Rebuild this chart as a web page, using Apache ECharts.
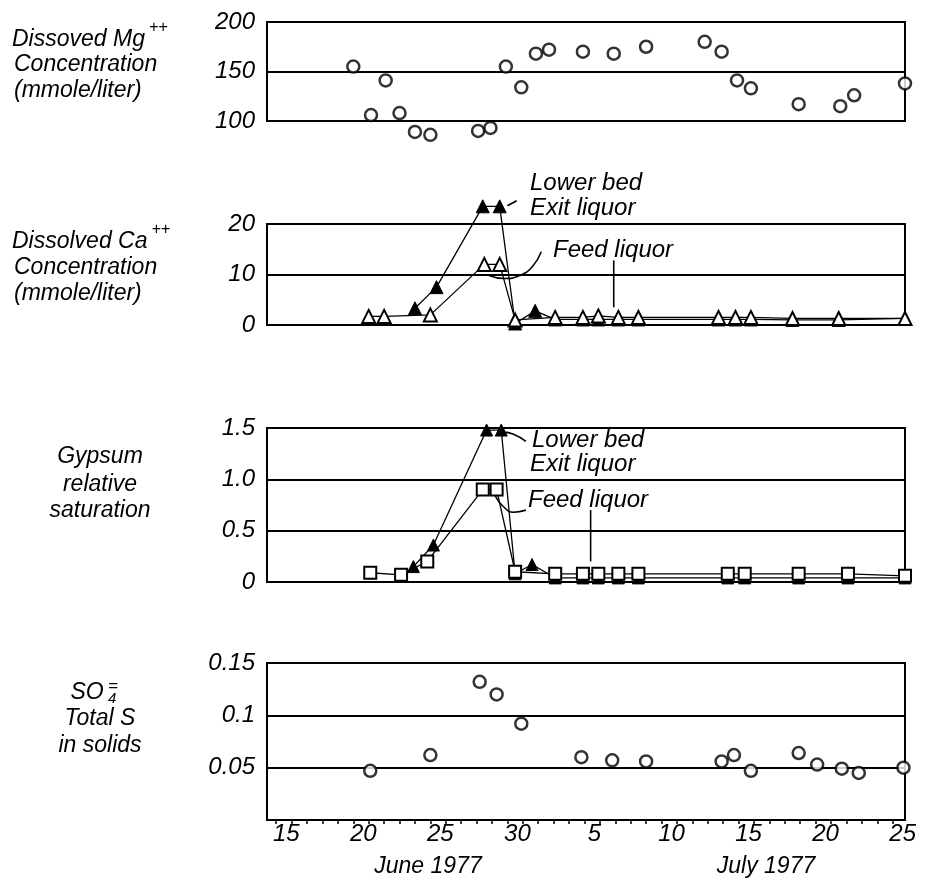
<!DOCTYPE html>
<html><head><meta charset="utf-8">
<script src="https://cdn.jsdelivr.net/npm/echarts@6/dist/echarts.min.js"></script>
<style>html,body{margin:0;padding:0;background:#fff}#c{width:926px;height:888px}</style>
</head><body><div id="c"></div>
<script>
// ---- data (x = day counted from 1 June 1977; July d = 30 + d) ----
const dayTicks = [15, 20, 25, 30, 35, 40, 45, 50, 55];

const mgDays   = [20, 21.15, 22.1, 23, 24, 25, 28.1, 28.9, 29.9, 30.9, 31.85, 32.7, 34.9, 36.9, 39, 42.8, 43.9, 44.9, 45.8, 48.9, 51.6, 52.5, 55.8];
const mgValues = [155, 106, 141, 108, 89, 86, 90, 93, 155, 134, 168, 172, 170, 168, 175, 180, 170, 141, 133, 117, 115, 126, 138];

const caFeedDays   = [21, 22, 25, 28.5, 29.5, 30.5, 33.1, 34.9, 35.9, 37.2, 38.5, 43.7, 44.8, 45.8, 48.5, 51.5, 55.8];
const caFeedValues = [1.7, 1.7, 2.0, 12, 12, 1.0, 1.5, 1.5, 1.8, 1.5, 1.5, 1.5, 1.5, 1.5, 1.3, 1.3, 1.3];
const caLowDays    = [24, 25.4, 28.4, 29.5, 30.5, 31.8, 33.1, 34.9, 35.9, 37.2, 38.5, 43.7, 44.8, 45.8, 48.5, 51.5, 55.8];
const caLowValues  = [3.3, 7.5, 23.5, 23.5, 0.3, 2.8, 1.1, 1.1, 1.1, 1.1, 1.1, 1.1, 1.1, 1.1, 1.0, 1.0, 1.3];

const gypFeedDays   = [21.1, 23.1, 24.8, 28.4, 29.3, 30.5, 33.1, 34.9, 35.9, 37.2, 38.5, 44.3, 45.4, 48.9, 52.1, 55.8];
const gypFeedValues = [0.09, 0.07, 0.2, 0.9, 0.9, 0.1, 0.08, 0.08, 0.08, 0.08, 0.08, 0.08, 0.08, 0.08, 0.08, 0.06];
const gypLowDays    = [23.9, 25.2, 28.65, 29.6, 30.5, 31.6, 33.1, 34.9, 35.9, 37.2, 38.5, 44.3, 45.4, 48.9, 52.1, 55.8];
const gypLowValues  = [0.15, 0.36, 1.48, 1.48, 0.08, 0.17, 0.04, 0.04, 0.04, 0.04, 0.04, 0.04, 0.04, 0.04, 0.04, 0.04];

const so4Days   = [21.1, 25, 28.2, 29.3, 30.9, 34.8, 36.8, 39, 43.9, 44.7, 45.8, 48.9, 50.1, 51.7, 52.8, 55.7];
const so4Values = [0.047, 0.062, 0.132, 0.120, 0.092, 0.060, 0.057, 0.056, 0.056, 0.062, 0.047, 0.064, 0.053, 0.049, 0.045, 0.050];

// callout leader lines (data coordinates)
const caExitLeader  = [[30.0, 23.6], [30.6, 24.6]];
const caFeedLeader  = [[32.2, 14.5], [31.6, 11.5], [30.8, 9.8], [29.8, 9.2], [28.8, 9.8]];
const caFeedArrow   = [[36.9, 12.8], [36.9, 3.5]];
const gypExitLeader = [[29.7, 1.46], [30.4, 1.44], [31.2, 1.37]];
const gypFeedLeader = [[29.2, 0.84], [29.7, 0.74], [30.4, 0.68], [31.2, 0.70]];
const gypFeedArrow  = [[35.4, 0.70], [35.4, 0.20]];

// ---- chart ----
const FONT = '"Liberation Sans", Arial, sans-serif';
const zip = (a, b) => a.map((d, i) => [d, b[i]]);
const chart = echarts.init(document.getElementById('c'), null, {renderer: 'canvas'});

const gridDefs = [[22, 99], [224, 101], [428, 154], [663, 157]];
const grids = gridDefs.map(g => ({left: 267, width: 638, top: g[0], height: g[1], show: true,
  borderColor: '#000', borderWidth: 2, backgroundColor: 'transparent'}));

const dailyTicks = [];
for (let d = 15; d <= 55; d++) dailyTicks.push(d);

const xAxes = [0, 1, 2, 3].map(i => ({
  type: 'value', gridIndex: i, min: 14.4, max: 55.8, show: i === 3,
  axisLine: {show: true, lineStyle: {color: '#000', width: 2}},
  axisTick: {show: true, customValues: dailyTicks, length: 4, lineStyle: {color: '#000', width: 1.5}},
  splitLine: {show: false},
  axisLabel: {customValues: dayTicks, formatter: v => String(v > 30 ? v - 30 : v),
    color: '#000', fontSize: 24, fontStyle: 'italic', fontFamily: FONT, margin: 2, padding: [0, 0, 0, 20]}
}));

const yDefs = [
  {min: 100, max: 200, interval: 50, fmt: v => String(v)},
  {min: 0, max: 20, interval: 10, fmt: v => String(v)},
  {min: 0, max: 1.5, interval: 0.5, fmt: v => v === 0 ? '0' : v.toFixed(1)},
  {min: 0, max: 0.15, interval: 0.05, fmt: v => v === 0 ? '' : String(Math.round(v * 100) / 100)}
];
const yAxes = yDefs.map((d, i) => ({
  type: 'value', gridIndex: i, min: d.min, max: d.max, interval: d.interval,
  axisLine: {show: false}, axisTick: {show: false},
  splitLine: {show: true, lineStyle: {color: '#000', width: 2}},
  axisLabel: {formatter: d.fmt, color: '#000', fontSize: 24, fontStyle: 'italic', fontFamily: FONT, margin: 12}
}));

const openStyle = {color: '#fff', borderColor: '#000', borderWidth: 2};
const fillStyle = {color: '#000', borderColor: '#000', borderWidth: 1};
const lineBase = {color: '#000', width: 1.3};

const leader = (data, i) => ({type: 'line', xAxisIndex: i, yAxisIndex: i, data, smooth: true,
  symbol: 'none', clip: false, silent: true, z: 1, lineStyle: {color: '#000', width: 1.6}});

const series = [
  {type: 'scatter', xAxisIndex: 0, yAxisIndex: 0, data: zip(mgDays, mgValues), symbol: 'circle',
   symbolSize: 12, clip: false, itemStyle: {color: '#fff', borderColor: '#000', borderWidth: 2.5}},
  {type: 'line', xAxisIndex: 1, yAxisIndex: 1, data: zip(caLowDays, caLowValues), symbol: 'triangle',
   symbolSize: 13, clip: false, z: 2, itemStyle: fillStyle, lineStyle: lineBase},
  {type: 'line', xAxisIndex: 1, yAxisIndex: 1, data: zip(caFeedDays, caFeedValues), symbol: 'triangle',
   symbolSize: 13, clip: false, z: 3, itemStyle: openStyle, lineStyle: lineBase},
  {type: 'line', xAxisIndex: 2, yAxisIndex: 2, data: zip(gypLowDays, gypLowValues), symbol: 'triangle',
   symbolSize: 12, clip: false, z: 2, itemStyle: fillStyle, lineStyle: lineBase},
  {type: 'line', xAxisIndex: 2, yAxisIndex: 2, data: zip(gypFeedDays, gypFeedValues), symbol: 'rect',
   symbolSize: 12, clip: false, z: 3, itemStyle: openStyle, lineStyle: lineBase},
  {type: 'scatter', xAxisIndex: 3, yAxisIndex: 3, data: zip(so4Days, so4Values), symbol: 'circle',
   symbolSize: 12, clip: false, itemStyle: {color: '#fff', borderColor: '#000', borderWidth: 2.5}},
  leader(caExitLeader, 1), leader(caFeedLeader, 1), leader(caFeedArrow, 1),
  leader(gypExitLeader, 2), leader(gypFeedLeader, 2), leader(gypFeedArrow, 2)
];

function tw(str, size) {
  const c = document.createElement('canvas').getContext('2d');
  c.font = 'italic ' + size + 'px "Liberation Sans"';
  return c.measureText(str).width;
}
const TS = 23;
function T(text, x, y, align, size) {
  size = size || TS;
  return {type: 'text', x: x, y: y, silent: true, style: {text: text, font: 'italic ' + size + 'px ' + FONT,
    fill: '#000', textAlign: align || 'left', textVerticalAlign: 'middle', align: align || 'left', verticalAlign: 'middle'}};
}
const graphics = [
  T('Dissoved Mg', 12, 40), T('++', 12 + tw('Dissoved Mg', TS) + 4, 28, 'left', 16),
  T('Concentration', 14, 65), T('(mmole/liter)', 14, 91),
  T('Dissolved Ca', 12, 242), T('++', 12 + tw('Dissolved Ca', TS) + 4, 230, 'left', 16),
  T('Concentration', 14, 268), T('(mmole/liter)', 14, 294),
  T('Gypsum', 100, 457, 'center'), T('relative', 100, 485, 'center'), T('saturation', 100, 511, 'center'),
  T('SO', 87, 693, 'center'), T('4', 108, 699, 'left', 15), T('=', 108, 686, 'left', 17),
  T('Total S', 100, 719, 'center'), T('in solids', 100, 746, 'center'),
  T('Lower bed', 530, 183, 'left', 24), T('Exit liquor', 530, 208, 'left', 24), T('Feed liquor', 553, 250, 'left', 24),
  T('Lower bed', 532, 440, 'left', 24), T('Exit liquor', 530, 464, 'left', 24), T('Feed liquor', 528, 500, 'left', 24),
  T('June 1977', 428, 867, 'center', 23), T('July 1977', 766, 867, 'center', 23)
];

chart.setOption({
  animation: false,
  backgroundColor: '#fff',
  grid: grids, xAxis: xAxes, yAxis: yAxes, series: series, graphic: graphics
});
</script></body></html>
